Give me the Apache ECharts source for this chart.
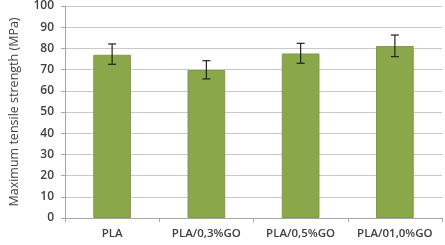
<!DOCTYPE html>
<html><head><meta charset="utf-8">
<script src="https://cdn.jsdelivr.net/npm/echarts@6/dist/echarts.min.js"></script>
<style>html,body{margin:0;padding:0;background:#fff}#c{width:445px;height:245px}</style>
</head><body><div id="c"></div>
<script>
const categories = ["PLA", "PLA/0,3%GO", "PLA/0,5%GO", "PLA/01,0%GO"];
const strength = [77.0, 69.8, 77.6, 81.1];
const errLow = [72.5, 65.6, 73.0, 76.1];
const errHigh = [82.1, 74.2, 82.4, 86.3];
const yTicks = [0, 10, 20, 30, 40, 50, 60, 70, 80, 90, 100];

const chart = echarts.init(document.getElementById('c'), null, {renderer: 'canvas'});
const font = '"Open Sans", "Liberation Sans", sans-serif';
chart.setOption({
  animation: false,
  grid: {left: 53, right: 3, top: 6, bottom: 27},
  xAxis: {
    type: 'category', data: categories,
    axisLine: {lineStyle: {color: '#a6a6a6'}},
    axisTick: {show: true, length: 4, lineStyle: {color: '#a6a6a6'}},
    axisLabel: {interval: 0, hideOverlap: false, color: '#404040', fontSize: 11.5, fontFamily: font, fontWeight: 600, margin: 10}
  },
  yAxis: {
    type: 'value', min: yTicks[0], max: yTicks[yTicks.length - 1], interval: 10,
    name: 'Maximum tensile strength (MPa)', nameLocation: 'middle', nameGap: 44, nameRotate: 90,
    nameTextStyle: {color: '#404040', fontSize: 12.5, fontFamily: font},
    axisLine: {show: true, lineStyle: {color: '#a6a6a6'}},
    axisTick: {show: true, length: 4, lineStyle: {color: '#a6a6a6'}},
    axisLabel: {color: '#404040', fontSize: 12, fontFamily: font, fontWeight: 600, margin: 11},
    splitLine: {lineStyle: {color: '#c8c8c8', width: 1}}
  },
  series: [
    {
      type: 'bar', data: strength, barWidth: '40%',
      itemStyle: {color: '#8aa84a', borderColor: '#7f9c43', borderWidth: 1}
    },
    {
      type: 'custom',
      data: categories.map((c, i) => [i, errLow[i], errHigh[i]]),
      renderItem: function (params, api) {
        const lo = api.coord([api.value(0), api.value(1)]);
        const hi = api.coord([api.value(0), api.value(2)]);
        const w = 4;
        const st = {stroke: '#222', lineWidth: 1.2};
        return {type: 'group', children: [
          {type: 'line', shape: {x1: hi[0], y1: hi[1], x2: lo[0], y2: lo[1]}, style: st},
          {type: 'line', shape: {x1: hi[0] - w, y1: hi[1], x2: hi[0] + w, y2: hi[1]}, style: st},
          {type: 'line', shape: {x1: lo[0] - w, y1: lo[1], x2: lo[0] + w, y2: lo[1]}, style: st}
        ]};
      },
      z: 10
    }
  ]
});
</script></body></html>
